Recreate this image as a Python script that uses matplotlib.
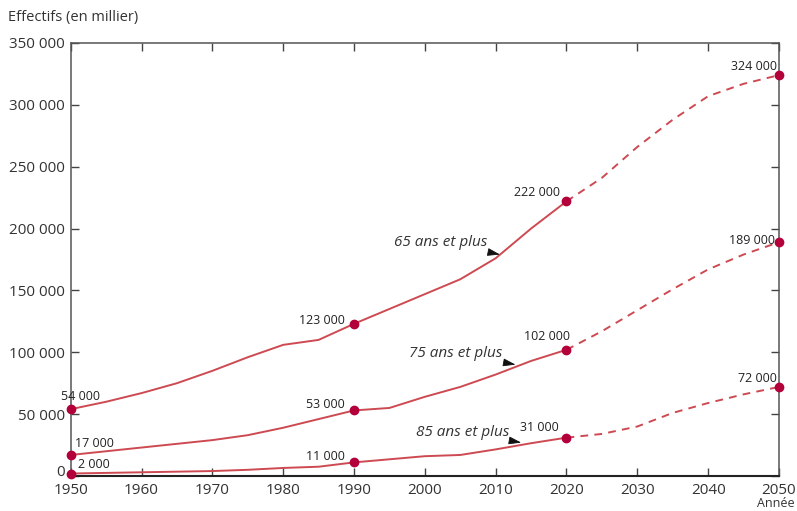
import matplotlib.pyplot as plt
import matplotlib.transforms as mtransforms
from matplotlib.ticker import FuncFormatter

plt.rcParams['font.family'] = ['Open Sans', 'DejaVu Sans']

# observed years (solid) and projected years (dashed)
years_obs = [1950, 1955, 1960, 1965, 1970, 1975, 1980, 1985, 1990,
             1995, 2000, 2005, 2010, 2015, 2020]
years_proj = [2020, 2025, 2030, 2035, 2040, 2045, 2050]

# values in thousands
age65_obs = [54000, 60000, 67000, 75000, 85000, 96000, 106000, 110000, 123000,
             135000, 147000, 159000, 176000, 200000, 222000]
age65_proj = [222000, 241000, 266000, 288000, 307000, 317000, 324000]

age75_obs = [17000, 20000, 23000, 26000, 29000, 33000, 39000, 46000, 53000,
             55000, 64000, 72000, 82000, 93000, 102000]
age75_proj = [102000, 117000, 134000, 151000, 167000, 179000, 189000]

age85_obs = [2000, 2500, 3000, 3500, 4000, 5000, 6500, 7500, 11000,
             13500, 16000, 17000, 21500, 26500, 31000]
age85_proj = [31000, 34000, 40000, 51000, 59000, 66000, 72000]

# labelled points: (year, value, label text, x offset px, y offset px, ha)
point_labels = [
    (1950, 54000, '54 000', -10, 13, 'left'),
    (1950, 17000, '17 000', 4, 11, 'left'),
    (1950, 2000, '2 000', 7, 9, 'left'),
    (1990, 123000, '123 000', -9, 3, 'right'),
    (1990, 53000, '53 000', -9, 6, 'right'),
    (1990, 11000, '11 000', -9, 6, 'right'),
    (2020, 222000, '222 000', -6, 9, 'right'),
    (2020, 102000, '102 000', 4, 13, 'right'),
    (2020, 31000, '31 000', -8, 10, 'right'),
    (2050, 324000, '324 000', -2, 9, 'right'),
    (2050, 189000, '189 000', -4, 2, 'right'),
    (2050, 72000, '72 000', -2, 8, 'right'),
]

# series names with arrow tips
series_labels = [
    ('65 ans et plus', 2002.3, 189000, 2010.6, 179000),
    ('75 ans et plus', 2004.4, 99000, 2012.8, 90000),
    ('85 ans et plus', 2005.3, 35500, 2013.6, 27000),
]

line_color = '#cd4a52'
dot_color = '#b3003a'
text_color = '#333333'

fig = plt.figure(figsize=(7.97, 5.11), dpi=100)
ax = fig.add_axes([0.0887, 0.0685, 0.8887, 0.8474])

for obs, proj in [(age65_obs, age65_proj), (age75_obs, age75_proj), (age85_obs, age85_proj)]:
    ax.plot(years_obs, obs, color=line_color, lw=1.4, solid_capstyle='round')
    ax.plot(years_proj, proj, color=line_color, lw=1.4, linestyle=(0, (4, 3.2)))
    ax.plot([years_obs[0], 1990, years_obs[-1], years_proj[-1]],
            [obs[0], obs[years_obs.index(1990)], obs[-1], proj[-1]],
            'o', color=dot_color, ms=6, clip_on=False, zorder=5)

for x, y, txt, dx, dy, ha in point_labels:
    ax.annotate(txt, (x, y), xytext=(dx, dy), textcoords='offset pixels',
                ha=ha, va='center', fontsize=9, color='#222222')

for txt, tx, ty, ax_x, ax_y in series_labels:
    ax.annotate(txt, xy=(ax_x, ax_y), xytext=(tx, ty), ha='center', va='center',
                fontsize=11, style='italic', color=text_color,
                arrowprops=dict(arrowstyle='-|>,head_length=0.7,head_width=0.22',
                                color='#111111', lw=0.6, shrinkA=1, shrinkB=0))

ax.set_xlim(1950, 2050)
ax.set_ylim(0, 350000)
ax.set_xticks(range(1950, 2051, 10))
ax.set_yticks(range(0, 350001, 50000))
ax.yaxis.set_major_formatter(FuncFormatter(lambda v, p: f'{int(v):,}'.replace(',', ' ')))
ax.tick_params(direction='in', length=6, width=1, color='#444444',
               top=True, right=True, labelsize=11, labelcolor=text_color)
ax.tick_params(axis='x', pad=5)
ax.tick_params(axis='y', pad=4)
for lbl in ax.get_yticklabels():
    lbl.set_verticalalignment('center_baseline')

# lift the "0" label a little so it clears the 1950 label
zero_lbl = ax.yaxis.get_major_ticks()[0].label1
zero_lbl.set_transform(zero_lbl.get_transform() +
                       mtransforms.ScaledTranslation(0, 4 / 72, fig.dpi_scale_trans))

for side in ['left', 'right', 'top']:
    ax.spines[side].set_color('#555555')
    ax.spines[side].set_linewidth(1.1)
ax.spines['bottom'].set_color('#222222')
ax.spines['bottom'].set_linewidth(1.5)

fig.text(0.01, 0.965, 'Effectifs (en millier)', fontsize=10.5, color=text_color,
         ha='left', va='center')
fig.text(0.997, 0.001, 'Année', fontsize=9, color=text_color, ha='right', va='bottom')

fig.savefig('out.png', dpi=100)
